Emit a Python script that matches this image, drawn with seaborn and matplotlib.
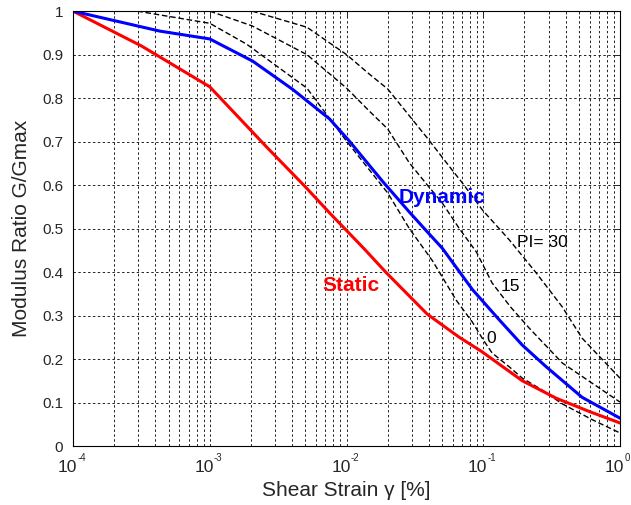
import numpy as np
import pandas as pd
import matplotlib
matplotlib.use("Agg")
import matplotlib.pyplot as plt
import matplotlib.ticker as mticker
import seaborn as sns

# ---- data ----
static_strain = [1e-4, 3.16e-4, 1e-3, 2.65e-3, 4.93e-3, 7.52e-3, 1.35e-2, 1.96e-2,
                 3.90e-2, 6.68e-2, 9.66e-2, 0.193, 0.341, 0.6, 1.0]
static_ratio = [1.0, 0.92, 0.826, 0.685, 0.598, 0.536, 0.453, 0.398,
                0.303, 0.250, 0.218, 0.150, 0.110, 0.079, 0.053]

dyn_strain = [1e-4, 4.32e-4, 1e-3, 2.06e-3, 4.04e-3, 7.52e-3, 1.05e-2, 1.83e-2,
              2.88e-2, 4.04e-2, 5.01e-2, 8.32e-2, 0.131, 0.193, 0.289, 0.528, 1.0]
dyn_ratio = [1.0, 0.954, 0.936, 0.885, 0.82, 0.752, 0.701, 0.609,
             0.538, 0.487, 0.455, 0.36, 0.29, 0.232, 0.182, 0.112, 0.064]

pi0_strain = [2.95e-4, 1e-3, 1.86e-3, 5.13e-3, 1e-2, 2.0e-2, 2.88e-2, 4.27e-2,
              6.35e-2, 8.32e-2, 1e-1, 0.116, 0.155, 0.193, 0.269, 0.378, 0.631, 1.0]
pi0_ratio = [1.0, 0.972, 0.924, 0.823, 0.701, 0.582, 0.50, 0.425,
             0.335, 0.285, 0.244, 0.214, 0.182, 0.156, 0.129, 0.097, 0.06, 0.03]

pi15_strain = [1e-3, 2.04e-3, 5.13e-3, 1e-2, 1.47e-2, 2.0e-2, 2.88e-2, 3.90e-2,
               5.01e-2, 6.68e-2, 8.91e-2, 0.116, 0.158, 0.217, 0.378, 1.0]
pi15_ratio = [1.0, 0.966, 0.90, 0.823, 0.77, 0.729, 0.651, 0.60,
              0.559, 0.50, 0.446, 0.375, 0.32, 0.271, 0.191, 0.101]

pi30_strain = [2.04e-3, 5.13e-3, 1e-2, 1.47e-2, 2.0e-2, 3.90e-2, 5.94e-2, 7.03e-2,
               9.84e-2, 0.155, 0.244, 0.378, 0.528, 1.0]
pi30_ratio = [1.0, 0.963, 0.90, 0.855, 0.821, 0.708, 0.634, 0.605,
              0.543, 0.474, 0.398, 0.32, 0.248, 0.156]

y_ticks = [0, 0.1, 0.2, 0.3, 0.4, 0.5, 0.6, 0.7, 0.8, 0.9, 1.0]
y_tick_labels = ["0", "0.1", "0.2", "0.3", "0.4", "0.5", "0.6", "0.7", "0.8", "0.9", "1"]
x_ticks = [1e-4, 1e-3, 1e-2, 1e-1, 1.0]
x_tick_exponents = ["-4", "-3", "-2", "-1", "0"]

# ---- style ----
sns.set_style("white")
plt.rcParams["font.family"] = ["Liberation Sans", "DejaVu Sans"]

fig = plt.figure(figsize=(6.31, 5.05), dpi=100)
ax = fig.add_axes([0.1157, 0.1168, 0.9826 - 0.1157, 0.978 - 0.1168])

def draw(xs, ys, **kw):
    df = pd.DataFrame({"strain": xs, "ratio": ys})
    sns.lineplot(data=df, x="strain", y="ratio", ax=ax, estimator=None, sort=False, **kw)

dash = (0, (4, 2))
draw(pi0_strain, pi0_ratio, color="black", linewidth=1.0, linestyle=dash)
draw(pi15_strain, pi15_ratio, color="black", linewidth=1.0, linestyle=dash)
draw(pi30_strain, pi30_ratio, color="black", linewidth=1.0, linestyle=dash)
draw(static_strain, static_ratio, color="#ff0000", linewidth=2.2)
draw(dyn_strain, dyn_ratio, color="#0000ff", linewidth=2.2)

ax.set_xscale("log")
ax.set_xlim(1e-4, 1.0)
ax.set_ylim(0, 1)
ax.set_yticks(y_ticks)
ax.set_yticklabels(y_tick_labels)
ax.set_xticks(x_ticks)
ax.xaxis.set_minor_locator(mticker.LogLocator(base=10, subs=np.arange(2, 10), numticks=20))
ax.xaxis.set_major_formatter(mticker.NullFormatter())
ax.xaxis.set_minor_formatter(mticker.NullFormatter())

# MATLAB-like tick labels: "10" with a small superscript exponent
xtr = ax.get_xaxis_transform()
for t, e in zip(x_ticks, x_tick_exponents):
    ax.annotate("10", xy=(t, 0), xycoords=xtr, xytext=(2.9, -15.2),
                textcoords="offset points", ha="right", va="center",
                fontsize=12.5, annotation_clip=False)
    ax.annotate(e, xy=(t, 0), xycoords=xtr, xytext=(3.0, -8.8),
                textcoords="offset points", ha="left", va="center",
                fontsize=7, annotation_clip=False)

ax.grid(True, which="major", axis="both", color="#222222", linestyle=(0, (2.5, 2.5)), linewidth=0.7)
ax.grid(True, which="minor", axis="x", color="#222222", linestyle=(0, (2.5, 2.5)), linewidth=0.7)

ax.tick_params(which="both", direction="in", top=True, right=True)
ax.tick_params(axis="y", labelsize=11, pad=7)
ax.tick_params(which="major", length=4, width=0.7)
ax.tick_params(which="minor", length=2, width=0.7)

for s in ax.spines.values():
    s.set_color("black")
    s.set_linewidth(0.8)

ax.set_xlabel("Shear Strain γ [%]", fontsize=15, labelpad=22)
ax.set_ylabel("Modulus Ratio G/Gmax", fontsize=15, labelpad=8)

ax.text(0.0502, 0.572, "Dynamic", color="#0000ff", fontsize=15, fontweight="bold",
        ha="center", va="center")
ax.text(0.0107, 0.370, "Static", color="#ff0000", fontsize=15, fontweight="bold",
        ha="center", va="center")
ax.text(0.27, 0.467, "PI= 30", color="black", fontsize=12.5, ha="center", va="center")
ax.text(0.157, 0.366, "15", color="black", fontsize=12.5, ha="center", va="center")
ax.text(0.114, 0.248, "0", color="black", fontsize=12.5, ha="center", va="center")

fig.savefig("out.png", dpi=100)
